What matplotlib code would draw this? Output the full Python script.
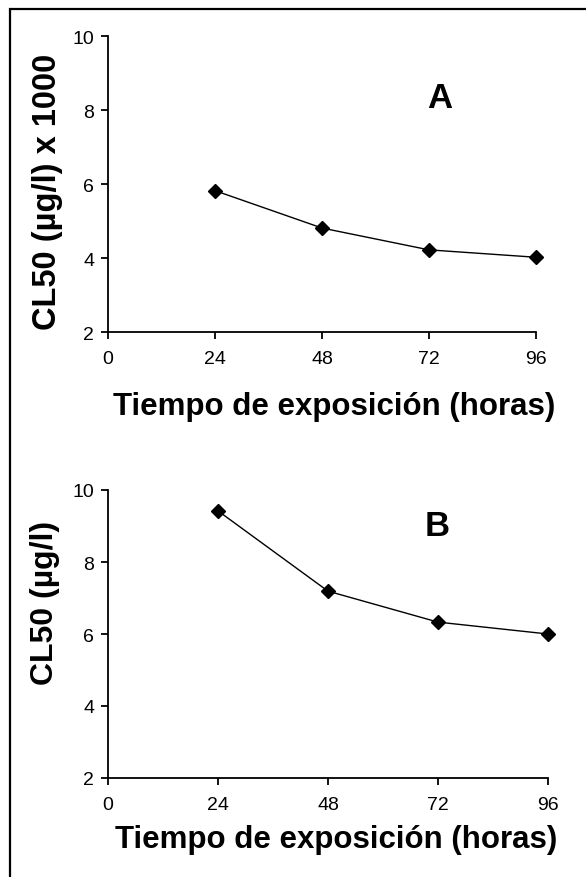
import matplotlib
matplotlib.use("Agg")
import matplotlib.pyplot as plt
from matplotlib.patches import Rectangle

plt.rcParams['font.family'] = ['Liberation Sans', 'DejaVu Sans']

hours = [24, 48, 72, 96]
cl50_a = [5.82, 4.81, 4.22, 4.02]
cl50_b = [9.42, 7.19, 6.33, 6.0]
x_ticks = [0, 24, 48, 72, 96]
y_ticks = [2, 4, 6, 8, 10]
xlabel = "Tiempo de exposición (horas)"
ylabel_a = "CL50 (µg/l) x 1000"
ylabel_b = "CL50 (µg/l)"

fig = plt.figure(figsize=(5.86, 8.78), dpi=100)

# outer frame
fig.patches.append(Rectangle((10/586, -0.1), 1.2, 1 - 10/878 + 0.1,
                             transform=fig.transFigure, fill=False,
                             edgecolor='black', linewidth=1.6))

axA = fig.add_axes([108/586, (878-333)/878, 428/586, 296/878])
axB = fig.add_axes([108/586, (878-779)/878, 440/586, 288/878])

for ax, ys, yl, letter, lx, ly in [
        (axA, cl50_a, ylabel_a, "A", 74.5, 8.35),
        (axB, cl50_b, ylabel_b, "B", 71.8, 9.0)]:
    ax.plot(hours, ys, color='black', linewidth=1.0, marker='D',
            markersize=7, markerfacecolor='black', markeredgecolor='black',
            clip_on=False)
    ax.set_xlim(0, 96)
    ax.set_ylim(2, 10)
    ax.set_xticks(x_ticks)
    ax.set_yticks(y_ticks)
    ax.spines['top'].set_visible(False)
    ax.spines['right'].set_visible(False)
    ax.spines['left'].set_linewidth(1.3)
    ax.spines['bottom'].set_linewidth(1.3)
    ax.tick_params(direction='out', length=5, width=1.3, labelsize=14,
                   pad=5)
    ax.tick_params(axis='x', pad=8)
    ax.set_xlabel(xlabel, fontsize=22.5, fontweight='bold')
    ax.text(lx, ly, letter, fontsize=25, fontweight='bold',
            ha='center', va='center')

axA.set_ylabel(ylabel_a, fontsize=23.5, fontweight='bold')
axB.set_ylabel(ylabel_b, fontsize=23, fontweight='bold')
axA.yaxis.set_label_coords(-45/428, 0.476)
axB.yaxis.set_label_coords(-48/440, 0.611)
axA.xaxis.set_label_coords(0.528, -0.20)
axB.xaxis.set_label_coords(0.518, -0.158)

fig.savefig("out.png", dpi=100)
